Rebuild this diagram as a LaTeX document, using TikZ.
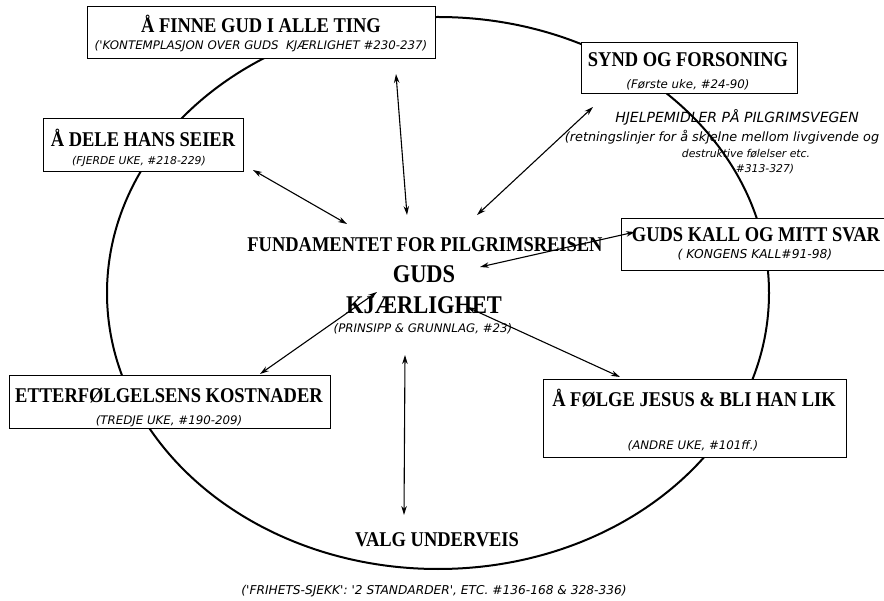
\documentclass[tikz,border=0pt]{standalone}
\usepackage{fontspec}
\setmainfont{Liberation Serif}
\newfontfamily\ttlfont[FakeStretch=0.88]{Liberation Serif}
\newfontfamily\subfont{DejaVu Sans}
\usetikzlibrary{arrows.meta}
\begin{document}
\begin{tikzpicture}[x=1pt,y=-1pt,
  boxst/.style={draw=black, line width=0.8pt, fill=white, inner sep=0pt, outer sep=0pt},
  ttl/.style={font=\ttlfont\bfseries\fontsize{21}{23}\selectfont, inner sep=0pt, anchor=base},
  big/.style={font=\ttlfont\bfseries\fontsize{25.5}{28}\selectfont, inner sep=0pt, anchor=base},
  sub/.style={font=\subfont\itshape\fontsize{11.8}{13}\selectfont, inner sep=0pt, anchor=base},
  note/.style={font=\subfont\itshape\fontsize{12.8}{14}\selectfont, inner sep=0pt, anchor=base},
  link/.style={line width=1.1pt, {Stealth[length=9pt,width=5.5pt]}-{Stealth[length=9pt,width=5.5pt]}},
]
\useasboundingbox (0,0) rectangle (884,601);
\fill[white] (0,0) rectangle (884,601);
% big ellipse
\draw[line width=2pt] (438,293) ellipse [x radius=331, y radius=276];
% boxes
\begin{scope}
\clip (0,0) rectangle (884,601);
\node[boxst, minimum width=348pt, minimum height=52pt] (b1) at (261,32) {};
\node[boxst, minimum width=216pt, minimum height=51pt] (b2) at (689,67.5) {};
\node[boxst, minimum width=200pt, minimum height=53pt] (b3) at (143,144.5) {};
\node[boxst, minimum width=271pt, minimum height=52pt] (b4) at (756.5,244) {};
\node[boxst, minimum width=321pt, minimum height=53pt] (b5) at (169.5,401.5) {};
\node[boxst, minimum width=303pt, minimum height=78pt] (b6) at (694.5,418) {};
\end{scope}
% titles
\node[ttl] (t1) at (261,33) {Å FINNE GUD I ALLE TING};
\node[sub] (s1) at (261,50) {('KONTEMPLASJON OVER GUDS\ \ KJÆRLIGHET \#230-237)};
\node[ttl] (t2) at (688,67) {SYND OG FORSONING};
\node[sub] (s2) at (688,89) {(Første uke, \#24-90)};
\node[ttl] (t3) at (143,147) {Å DELE HANS SEIER};
\node[sub, font=\subfont\itshape\fontsize{10.8}{12}\selectfont] (s3) at (139,165) {(FJERDE UKE, \#218-229)};
\node[ttl] (t4) at (756,242) {GUDS KALL OG MITT SVAR};
\node[sub, font=\subfont\itshape\fontsize{12.3}{14}\selectfont] (s4) at (755,259) {( KONGENS KALL\#91-98)};
\node[ttl] (t5) at (169,403) {ETTERFØLGELSENS KOSTNADER};
\node[sub] (s5) at (169,425) {(TREDJE UKE, \#190-209)};
\node[ttl] (t6) at (694,407) {Å FØLGE JESUS \& BLI HAN LIK};
\node[sub] (s6) at (693,450) {(ANDRE UKE, \#101ff.)};
\node[ttl] (t7) at (437,547) {VALG UNDERVEIS};
\node[sub, font=\subfont\itshape\fontsize{12.2}{14}\selectfont] (s7) at (434,594) {('FRIHETS-SJEKK': '2 STANDARDER', ETC. \#136-168 \& 328-336)};
% centre
\node[ttl] (c1) at (425,252) {FUNDAMENTET FOR PILGRIMSREISEN};
\node[big] (c2) at (424,283) {GUDS};
\node[big] (c3) at (424,314) {KJÆRLIGHET};
\node[sub] (c4) at (423,333) {(PRINSIPP \& GRUNNLAG, \#23)};
% helper text
\node[note, font=\subfont\itshape\fontsize{14}{16}\selectfont] (h1) at (737,123) {HJELPEMIDLER PÅ PILGRIMSVEGEN};
\node[note] (h2) at (722,142) {(retningslinjer for å skjelne mellom livgivende og};
\node[note, font=\subfont\itshape\fontsize{10.8}{12}\selectfont] (h3) at (746,158) {destruktive følelser etc.};
\node[note, font=\subfont\itshape\fontsize{10.8}{12}\selectfont] (h4) at (765,173) {\#313-327)};
% arrow ends
\coordinate (a1o) at (396,74);  \coordinate (a1i) at (407,215);
\coordinate (a2o) at (593,107); \coordinate (a2i) at (477,215);
\coordinate (a3o) at (253,170); \coordinate (a3i) at (347,224);
\coordinate (a4o) at (635,232); \coordinate (a4i) at (480,267);
\coordinate (a5o) at (260,374); \coordinate (a5i) at (377,292);
\coordinate (a6o) at (620,377); \coordinate (a6i) at (467,307);
\coordinate (a7o) at (404,515); \coordinate (a7i) at (405,355);
\draw[link] (a1o) -- (a1i);
\draw[link] (a2o) -- (a2i);
\draw[link] (a3o) -- (a3i);
\draw[link] (a4o) -- (a4i);
\draw[link] (a5o) -- (a5i);
\draw[link] (a6o) -- (a6i);
\draw[link] (a7o) -- (a7i);
\end{tikzpicture}
\end{document}
